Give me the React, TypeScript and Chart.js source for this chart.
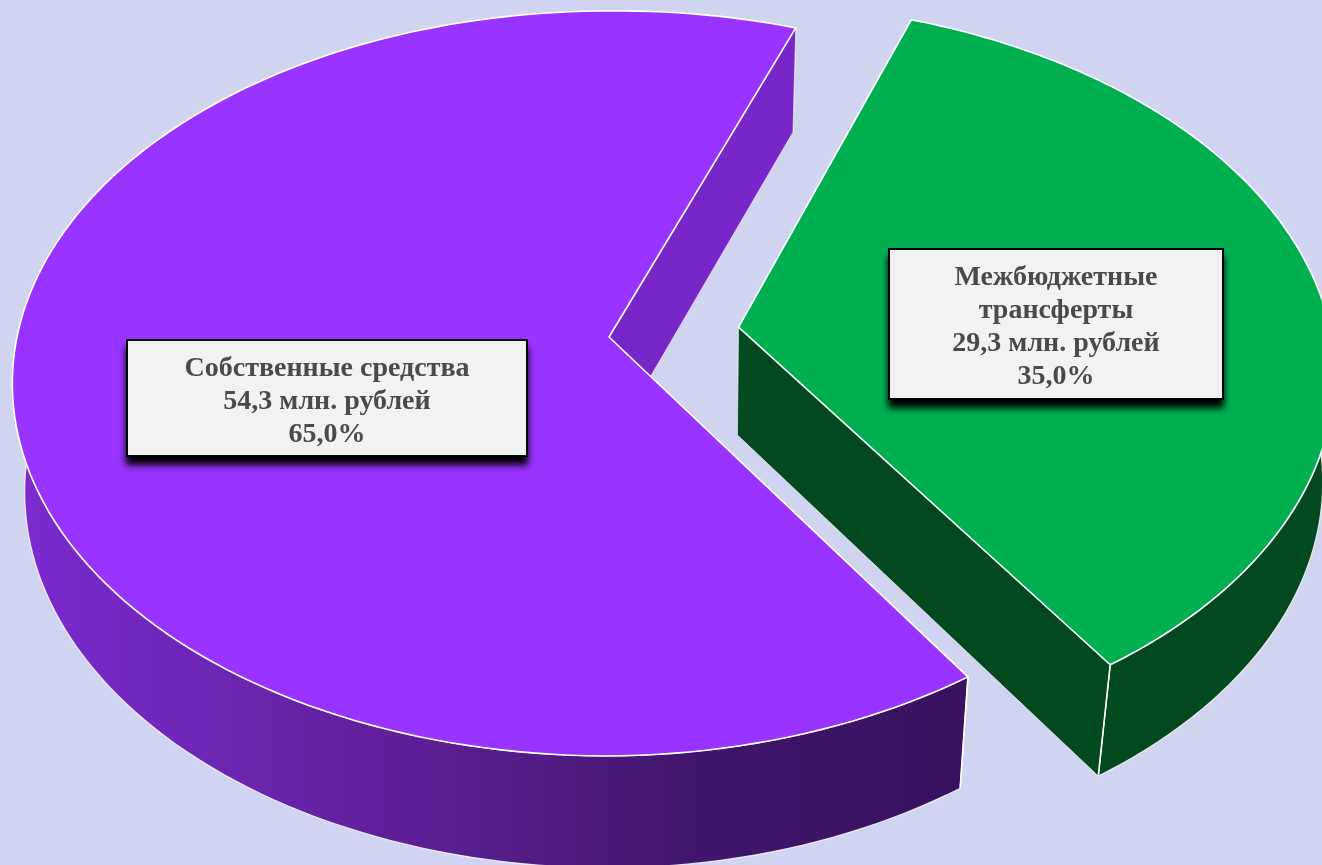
import React, { useEffect, useRef } from "react";
import { Chart, registerables } from "chart.js";

Chart.register(...registerables);

const categories = ["Собственные средства", "Межбюджетные трансферты"];
const values = [54.3, 29.3];
const topColors = ["#9933ff", "#00b050"];
const labelLines = [
  ["Собственные средства", "54,3 млн. рублей", "65,0%"],
  ["Межбюджетные", "трансферты", "29,3 млн. рублей", "35,0%"],
];
const sliceOffsets = [0, 86];
const startRotation = 146.8;

const BG = "#d1d4f0";
const W = 1322;
const H = 865;

// Perspective of the pie's plane
const CX = 609;
const CY = 337;
const AX = 592;
const BY = 366.7;
const P = 0.1248;

function proj(u: number, v: number, bottom: boolean): [number, number] {
  const w = 1 - P * v;
  let x = CX + (AX * u) / w;
  let y = CY + (BY * v) / w;
  const pu = Math.max(0, u);
  x -= 6.6 * Math.max(0, v) * pu;
  y -= 5 * pu;
  if (bottom) {
    x -= x < 700 ? 0.018 * (x - 700) : Math.min(12, 0.029 * (x - 700));
    y += 108 + 4 * v;
  }
  return [x, y];
}

function tracePoly(ctx: CanvasRenderingContext2D, pts: [number, number][]) {
  ctx.beginPath();
  pts.forEach((p, i) => (i ? ctx.lineTo(p[0], p[1]) : ctx.moveTo(p[0], p[1])));
  ctx.closePath();
}

function wallFill(ctx: CanvasRenderingContext2D, i: number) {
  if (i === 1) return "#03491f";
  const g = ctx.createLinearGradient(18, 0, 962, 0);
  g.addColorStop(0, "#7c2bd0");
  g.addColorStop(0.4, "#5f2099");
  g.addColorStop(0.72, "#40166c");
  g.addColorStop(1, "#38125f");
  return g;
}

const pie3d = {
  id: "pie3d",
  beforeDatasetDraw(chart: any, args: any) {
    const ctx: CanvasRenderingContext2D = chart.ctx;
    const meta = chart.getDatasetMeta(args.index);
    ctx.save();
    ctx.lineJoin = "round";
    meta.data.forEach((el: any, i: number) => {
      const { startAngle, endAngle, outerRadius } = el.getProps(
        ["startAngle", "endAngle", "outerRadius"],
        true
      );
      const mid = (startAngle + endAngle) / 2;
      const d = (el.options.offset || 0) / outerRadius;
      const ox = d * Math.cos(mid);
      const oy = d * Math.sin(mid);
      const top: [number, number][] = [];
      const bot: [number, number][] = [];
      const N = 160;
      for (let k = 0; k <= N; k++) {
        const t = startAngle + ((endAngle - startAngle) * k) / N;
        top.push(proj(ox + Math.cos(t), oy + Math.sin(t), false));
        bot.push(proj(ox + Math.cos(t), oy + Math.sin(t), true));
      }
      const apexT = proj(ox, oy, false);
      const apexB = proj(ox, oy, true);
      const inner = i === 0 ? "#7826c8" : "#03491f";

      // rim wall
      tracePoly(ctx, [...top, ...bot.slice().reverse()]);
      ctx.fillStyle = wallFill(ctx, i);
      ctx.fill();
      ctx.strokeStyle = "rgba(255,255,255,0.8)";
      ctx.lineWidth = 1.2;
      ctx.stroke();

      // only the radial wall that faces the viewer is seen
      const radial = (a: [number, number], b: [number, number]) => {
        tracePoly(ctx, [apexT, a, b, apexB]);
        ctx.fillStyle = inner;
        ctx.fill();
        ctx.strokeStyle = "rgba(255,255,255,0.6)";
        ctx.lineWidth = 1;
        ctx.stroke();
      };
      if (-Math.cos(startAngle) > 0) radial(top[0], bot[0]);
      if (Math.cos(endAngle) > 0) radial(top[N], bot[N]);

      // top face
      tracePoly(ctx, [apexT, ...top]);
      ctx.fillStyle = el.options.backgroundColor;
      ctx.fill();
      ctx.strokeStyle = "#ffffff";
      ctx.lineWidth = 1.6;
      ctx.stroke();

      // bright front corner edge
      const front = Math.cos(endAngle) > 0 && Math.sin(endAngle) > 0 ? N : Math.sin(startAngle) > 0 ? 0 : -1;
      if (front >= 0) {
        ctx.beginPath();
        ctx.moveTo(top[front][0], top[front][1]);
        ctx.lineTo(bot[front][0], bot[front][1]);
        ctx.strokeStyle = "#ffffff";
        ctx.lineWidth = 1.6;
        ctx.stroke();
      }
    });
    ctx.restore();
    return false;
  },
  afterDatasetsDraw(chart: any) {
    const ctx: CanvasRenderingContext2D = chart.ctx;
    const boxes = [
      { x: 127, y: 340, w: 400, h: 116, first: 368.5, step: 33 },
      { x: 889, y: 249, w: 334, h: 150, first: 278, step: 32.8 },
    ];
    boxes.forEach((b, i) => {
      ctx.save();
      ctx.shadowColor = "rgba(0,0,0,1)";
      ctx.shadowBlur = 7;
      ctx.shadowOffsetY = 8;
      ctx.shadowOffsetX = 0;
      ctx.fillStyle = "#000";
      ctx.fillRect(b.x - 1, b.y - 1, b.w + 2, b.h + 2);
      ctx.restore();
      ctx.fillStyle = "#f2f2f2";
      ctx.fillRect(b.x + 1, b.y + 1, b.w - 2, b.h - 2);
      ctx.fillStyle = "#4a4a4a";
      ctx.font = 'bold 28px "Liberation Serif"';
      ctx.textAlign = "center";
      ctx.textBaseline = "middle";
      labelLines[i].forEach((line, k) => {
        ctx.fillText(line, b.x + b.w / 2, b.first + k * b.step);
      });
    });
  },
};

export default function App() {
  const ref = useRef<HTMLCanvasElement>(null);
  useEffect(() => {
    document.body.style.margin = "0";
    document.body.style.background = BG;
    document.body.style.overflow = "hidden";
    const chart = new Chart(ref.current as HTMLCanvasElement, {
      type: "pie",
      data: {
        labels: categories,
        datasets: [
          {
            data: values,
            backgroundColor: topColors,
            offset: sliceOffsets,
            borderWidth: 0,
            hoverBorderWidth: 0,
          } as any,
        ],
      },
      options: {
        responsive: false,
        animation: false,
        rotation: startRotation,
        layout: { padding: 0 },
        plugins: { legend: { display: false }, tooltip: { enabled: false } },
      },
      plugins: [pie3d as any],
    });
    return () => chart.destroy();
  }, []);
  return (
    <canvas
      ref={ref}
      width={W}
      height={H}
      style={{ display: "block", width: W, height: H, background: BG }}
    />
  );
}
